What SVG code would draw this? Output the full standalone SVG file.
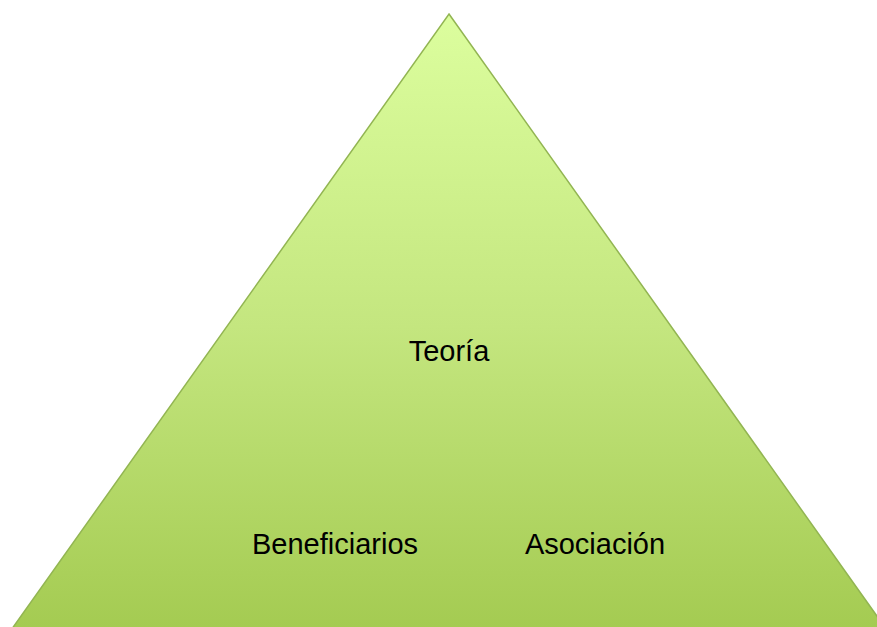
<svg xmlns="http://www.w3.org/2000/svg" width="877" height="627" viewBox="0 0 877 627">
  <defs>
    <linearGradient id="g" x1="0" y1="0" x2="0" y2="1">
      <stop offset="0" stop-color="#DCFE9E"/>
      <stop offset="0.5" stop-color="#C4E67F"/>
      <stop offset="1" stop-color="#A3CA50"/>
    </linearGradient>
  </defs>
  <style>
    .lbl { font-family: "Liberation Sans", Arial, sans-serif; font-size: 29px; fill: #000; text-anchor: middle; }
  </style>
  <rect width="877" height="627" fill="#FFFFFF"/>
  <g id="pyramid">
    <polygon points="449,14 894,640 4,640" fill="url(#g)" stroke="#92B552" stroke-width="1.5"/>
  </g>
  <g id="teoria"><text class="lbl" x="449" y="361">Teoría</text></g>
  <g id="beneficiarios"><text class="lbl" x="335" y="554">Beneficiarios</text></g>
  <g id="asociacion"><text class="lbl" x="595" y="554">Asociación</text></g>
  <g id="connectors"/>
</svg>
